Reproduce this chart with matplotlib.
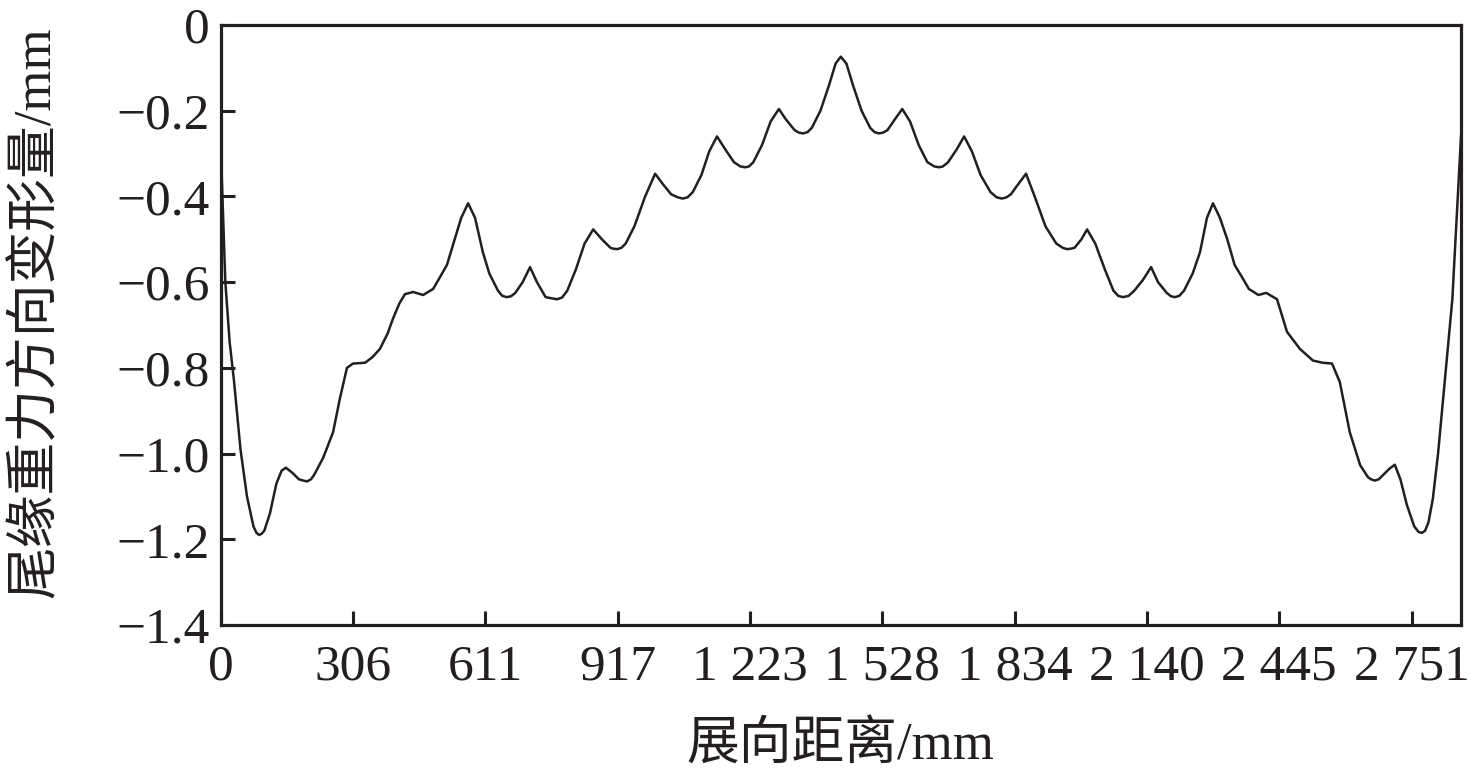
import matplotlib.pyplot as plt
from matplotlib.ticker import FixedLocator

plt.rcParams['font.family'] = ['Liberation Serif', 'Noto Sans CJK SC']
plt.rcParams['axes.unicode_minus'] = True

# spanwise distance (mm)
span = [0, 5, 10, 20, 30, 45, 60, 75, 82, 88, 94, 100, 113, 128, 140, 150, 165, 180, 190, 199,
        208, 215, 236, 259, 275, 291, 305, 333, 350, 367, 385, 397, 412, 425, 444, 467,
        490, 505, 522, 540, 555, 571, 587, 605, 620, 640, 650, 660, 670, 680, 697, 714, 730,
        750, 765, 776, 788, 800, 820, 840, 860, 880, 900, 907, 915, 925, 935, 955, 980, 1003, 1020,
        1040, 1055, 1067, 1078, 1090, 1110, 1128, 1146, 1165, 1185, 1200, 1211, 1220, 1230, 1250, 1270,
        1289, 1305, 1325, 1335, 1345, 1355, 1365, 1385, 1405, 1420, 1432,
        1445, 1460, 1480, 1500, 1510, 1520, 1530, 1540, 1557, 1574, 1592, 1612, 1632, 1648, 1659,
        1668, 1680, 1700, 1717, 1735, 1755, 1778, 1792, 1804, 1815, 1825, 1843, 1860, 1880, 1905,
        1930, 1945, 1955, 1963, 1972, 1988, 2001, 2020, 2042, 2062, 2073, 2084, 2097, 2110, 2130, 2149,
        2165, 2185, 2195, 2204, 2214, 2225, 2245, 2262, 2278, 2292, 2308, 2325, 2342, 2360,
        2375, 2397, 2415, 2440, 2463, 2493, 2523, 2545, 2567, 2585, 2608, 2632,
        2650, 2657, 2666, 2675, 2685, 2700, 2712, 2725, 2740, 2757, 2767, 2775, 2782, 2790, 2800, 2812,
        2824, 2835, 2845, 2855, 2865]

# trailing edge deflection along gravity (mm)
deflect = [-0.30, -0.45, -0.60, -0.74, -0.83, -0.99, -1.10, -1.17, -1.185, -1.19, -1.187, -1.18,
           -1.14, -1.07, -1.04, -1.033, -1.045, -1.06, -1.063, -1.065, -1.06, -1.05, -1.01, -0.95,
           -0.87, -0.80, -0.79, -0.788, -0.775, -0.756, -0.72, -0.686, -0.65,
           -0.628, -0.623, -0.630, -0.616, -0.59, -0.56, -0.50, -0.45, -0.416,
           -0.45, -0.53, -0.58, -0.62, -0.632, -0.635, -0.633, -0.625, -0.60, -0.565, -0.60,
           -0.635, -0.638, -0.64, -0.636, -0.62, -0.57, -0.51, -0.477, -0.50, -0.52, -0.522, -0.523,
           -0.52, -0.51, -0.47, -0.40, -0.347, -0.37, -0.395, -0.402, -0.405, -0.402, -0.39, -0.35,
           -0.295, -0.26, -0.29, -0.32, -0.33, -0.332, -0.33, -0.32, -0.28, -0.225, -0.196,
           -0.22, -0.245, -0.251, -0.253, -0.25, -0.24, -0.20, -0.14, -0.09, -0.074,
           -0.09, -0.14, -0.20, -0.24, -0.25, -0.253, -0.251, -0.245, -0.22, -0.196, -0.225,
           -0.28, -0.32, -0.33, -0.332, -0.33, -0.32, -0.29, -0.26, -0.295, -0.35, -0.39,
           -0.402, -0.405, -0.402, -0.395, -0.37, -0.347, -0.40, -0.47, -0.51, -0.52, -0.523, -0.522,
           -0.52, -0.50, -0.477, -0.51, -0.57, -0.62, -0.632, -0.635, -0.632, -0.62, -0.595, -0.565,
           -0.60, -0.625, -0.633, -0.635, -0.632, -0.62, -0.58, -0.53, -0.45, -0.416, -0.45,
           -0.50, -0.56, -0.59, -0.616, -0.630, -0.625, -0.64, -0.716, -0.756,
           -0.783, -0.788, -0.79, -0.833, -0.95, -1.027, -1.055, -1.06, -1.063, -1.06, -1.05,
           -1.035, -1.026, -1.06, -1.12, -1.17, -1.183, -1.185, -1.18, -1.16, -1.105, -1.00,
           -0.87, -0.75, -0.64, -0.45, -0.26]

xticks = [0, 306, 611, 917, 1223, 1528, 1834, 2140, 2445, 2751]
xlabels = ['0', '306', '611', '917', '1 223', '1 528', '1 834', '2 140', '2 445', '2 751']
yticks = [0, -0.2, -0.4, -0.6, -0.8, -1.0, -1.2, -1.4]
ylabels = ['0', '\u22120.2', '\u22120.4', '\u22120.6', '\u22120.8', '\u22121.0', '\u22121.2', '\u22121.4']

ink = '#231f20'

fig = plt.figure(figsize=(14.76, 7.81), dpi=100)
ax = fig.add_axes([221/1476, 1 - 625/781, 1240/1476, 600/781])

ax.plot(span, deflect, color=ink, lw=1.8, solid_joinstyle='round')

ax.set_xlim(0, 2865)
ax.set_ylim(-1.4, 0)
ax.xaxis.set_major_locator(FixedLocator(xticks))
ax.set_xticklabels(xlabels)
ax.yaxis.set_major_locator(FixedLocator(yticks))
ax.set_yticklabels(ylabels)

for s in ax.spines.values():
    s.set_linewidth(2.3)
    s.set_color(ink)
ax.tick_params(axis='both', direction='in', length=10, width=2.2, color=ink,
               labelsize=37, labelcolor=ink)
ax.tick_params(axis='x', pad=14)
ax.tick_params(axis='y', pad=8)

fig.text(840/1476, 1 - 745/781, '展向距离/mm', ha='center', va='center',
         fontsize=38, color=ink)
fig.text(36/1476, 1 - 312/781, '尾缘重力方向变形量/mm', ha='center', va='center',
         rotation=90, fontsize=38, color=ink)

fig.savefig('out.png', dpi=100)
